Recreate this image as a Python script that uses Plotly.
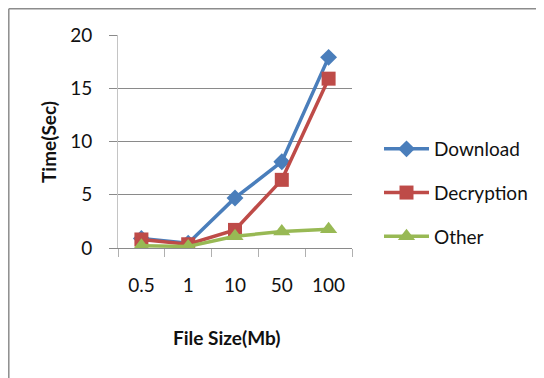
import plotly.graph_objects as go

categories = ["0.5", "1", "10", "50", "100"]
download = [0.9, 0.45, 4.7, 8.1, 17.9]
decryption = [0.8, 0.35, 1.7, 6.4, 15.9]
other = [0.2, 0.15, 1.1, 1.55, 1.75]
y_ticks = [0, 5, 10, 15, 20]

W, H = 544, 378
OFF = 8  # page body margin: screen coordinate = figure coordinate + OFF
# plot area in screen pixels
SX0, SX1, SY0, SY1 = 118, 352, 35, 248
L, R, T, B = SX0 - OFF, W - (SX1 - OFF), SY0 - OFF, H - (SY1 - OFF)
pw, ph = W - L - R, H - T - B

def px(sx):
    return (sx - OFF - L) / pw

def py(sy):
    return (H - B - (sy - OFF)) / ph

FONT = "Lato, 'Open Sans', sans-serif"

fig = go.Figure()
series = [
    ("Download", download, "#4A7EBB", "diamond", 13),
    ("Decryption", decryption, "#BE4B48", "square", 14),
    ("Other", other, "#98B954", "triangle-up", 15),
]
for name, vals, col, sym, sz in series:
    fig.add_trace(go.Scatter(
        x=categories, y=vals, name=name, mode="lines+markers",
        line=dict(color=col, width=3.5),
        marker=dict(symbol=sym, size=sz, color=col, line=dict(width=0)),
        legendgroup=name,
    ))

fig.update_layout(
    width=W, height=H,
    margin=dict(l=L, r=R, t=T, b=B, pad=0),
    paper_bgcolor="white", plot_bgcolor="white",
    font=dict(family=FONT, color="#111111"),
    showlegend=True,
    legend=dict(
        x=px(379), xanchor="left", y=py(130), yanchor="top",
        font=dict(size=19, family=FONT, color="#111111"),
        tracegroupgap=16, itemwidth=45,
        bgcolor="rgba(0,0,0,0)",
    ),
    xaxis=dict(
        type="category", showgrid=False, showline=True,
        linecolor="#8a8a8a", linewidth=1,
        ticks="outside", tickson="boundaries", ticklen=8, tickcolor="#b0b0b0",
        tickfont=dict(size=19, family=FONT, color="#111111"),
        ticklabelstandoff=20,
        range=[-0.5, 4.5], fixedrange=True,
    ),
    yaxis=dict(
        range=[0, 20], tickvals=y_ticks, showgrid=True,
        gridcolor="#8a8a8a", gridwidth=1,
        showline=True, linecolor="#c4c4c4", linewidth=1,
        ticks="outside", ticklen=8, tickcolor="#8a8a8a",
        tickfont=dict(size=19, family=FONT, color="#111111"),
        ticklabelstandoff=13, zeroline=False,
    ),
    annotations=[
        dict(text="<b>Time(Sec)</b>", textangle=-90, xref="paper", yref="paper",
             x=px(48), y=py(142), xanchor="center", yanchor="middle",
             showarrow=False,
             font=dict(size=19, family=FONT, color="#111111")),
        dict(text="<b>File Size(Mb)</b>", xref="paper", yref="paper",
             x=px(226), y=py(337), xanchor="center", yanchor="middle",
             showarrow=False,
             font=dict(size=19, family=FONT, color="#111111")),
    ],
    shapes=[
        dict(type="line", xref="paper", yref="paper", x0=px(8.8), x1=px(8.8),
             y0=py(8.8), y1=py(400), line=dict(color="#8c8c8c", width=1.5)),
        dict(type="line", xref="paper", yref="paper", x0=px(8.8), x1=px(560),
             y0=py(8.8), y1=py(8.8), line=dict(color="#8c8c8c", width=1.5)),
    ],
)

fig.write_html("out.html")
